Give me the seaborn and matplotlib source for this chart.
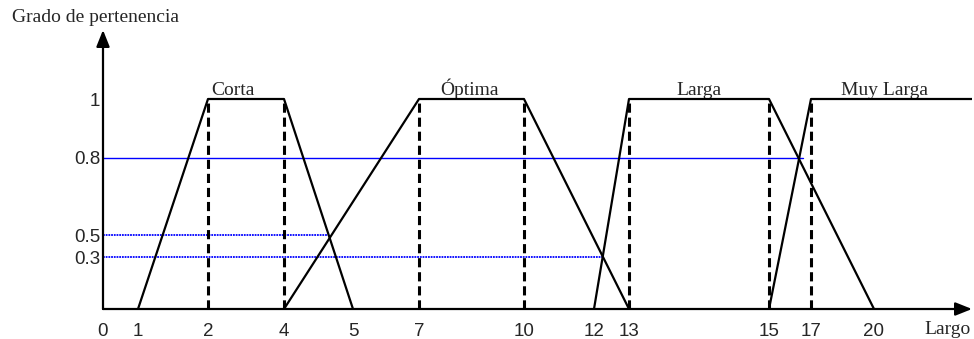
import numpy as np
import pandas as pd
import seaborn as sns
import matplotlib.pyplot as plt

# membership functions (largo -> grado de pertenencia)
corta_x = [1, 2, 4, 5]
corta_y = [0, 1, 1, 0]
optima_x = [4, 7, 10, 13]
optima_y = [0, 1, 1, 0]
larga_x = [12, 13, 15, 20]
larga_y = [0, 1, 1, 0]
muy_larga_x = [15, 17, 25]
muy_larga_y = [0, 1, 1]

sets = ['Corta', 'Óptima', 'Larga', 'Muy Larga']
cores = [2, 4, 7, 10, 13, 15, 17]          # dashed verticals

# cut levels and where each one stops
cut_levels = [0.8, 0.5, 0.3]
cut_ends = [16.6, 4.65, 12.26]

x_ticks = [0, 1, 2, 4, 5, 7, 10, 12, 13, 15, 17, 20]
y_ticks = [0.3, 0.5, 0.8, 1]

# the drawing is not to scale: piecewise mapping of values to pixels
x_pix = [103, 138, 208, 284, 353, 419, 524, 594, 629, 769, 811, 874]
y_vals = [0, 0.3, 0.5, 0.8, 1]
y_pix = [30, 82, 104, 181, 240]


def piecewise(src, dst):
    src = np.asarray(src, float)
    dst = np.asarray(dst, float)

    def f(v):
        v = np.asarray(v, float)
        out = np.interp(v, src, dst)
        lo = v < src[0]
        hi = v > src[-1]
        out = np.where(lo, dst[0] + (v - src[0]) * (dst[1] - dst[0]) / (src[1] - src[0]), out)
        out = np.where(hi, dst[-1] + (v - src[-1]) * (dst[-1] - dst[-2]) / (src[-1] - src[-2]), out)
        return out
    return f


fx, ix = piecewise(x_ticks, x_pix), piecewise(x_pix, x_ticks)
fy, iy = piecewise(y_vals, y_pix), piecewise(y_pix, y_vals)

sns.set_style('white')
plt.rcParams['font.family'] = ['Liberation Sans', 'DejaVu Sans']

W, H = 974, 339
fig = plt.figure(figsize=(W / 100, H / 100), dpi=100)
ax = fig.add_axes([103 / W, 30 / H, (972 - 103) / W, (309 - 30) / H])
ax.set_xscale('function', functions=(fx, ix))
ax.set_yscale('function', functions=(fy, iy))
ax.set_xlim(0, float(ix(972)))
ax.set_ylim(0, float(iy(309)))

# horizontal cuts
for lvl, end in zip(cut_levels, cut_ends):
    ls = '-' if lvl == 0.8 else (0, (1.0, 0.5))
    ax.plot([0, end], [lvl, lvl], color='#0000ff', lw=1.0 if lvl == 0.8 else 1.3,
            ls=ls, zorder=2)

# dashed cores
for c in cores:
    ax.plot([c, c], [0, 1], color='black', lw=2.2, ls=(0, (3, 1.6)), zorder=3)

df = pd.concat([
    pd.DataFrame({'x': corta_x, 'y': corta_y, 'set': sets[0]}),
    pd.DataFrame({'x': optima_x, 'y': optima_y, 'set': sets[1]}),
    pd.DataFrame({'x': larga_x, 'y': larga_y, 'set': sets[2]}),
    pd.DataFrame({'x': muy_larga_x, 'y': muy_larga_y, 'set': sets[3]}),
])
sns.lineplot(data=df, x='x', y='y', units='set', estimator=None, sort=False,
             color='black', lw=1.6, ax=ax, legend=False, zorder=4)

# set names above the plateaus
label_x = [2.65, 8.45, 14, 20.5]
for name, lx in zip(sets, label_x):
    ax.annotate(name, (lx, 1), xytext=(0, 3), textcoords='offset points',
                ha='center', va='baseline', fontsize=14, family='Liberation Serif')

ax.set_xticks(x_ticks)
ax.set_xticklabels([str(t) for t in x_ticks], family='Liberation Sans', fontsize=13.5)
ax.set_yticks(y_ticks)
ax.set_yticklabels(['0.3', '0.5', '0.8', '1'], family='Liberation Sans', fontsize=13.5)
ax.tick_params(axis='x', length=0, pad=10)
ax.tick_params(axis='y', length=0, pad=2)
ax.minorticks_off()
ax.set_xlabel('')
ax.set_ylabel('')
for s in ax.spines.values():
    s.set_visible(False)

# axes with arrow heads
arrow = dict(arrowstyle='-|>,head_length=1.0,head_width=0.4', color='black', lw=1.6,
             shrinkA=0, shrinkB=0)
ax.annotate('', xy=(1, 0), xytext=(0, 0), xycoords='axes fraction', arrowprops=arrow,
            annotation_clip=False)
ax.annotate('', xy=(0, 1), xytext=(0, 0), xycoords='axes fraction', arrowprops=arrow,
            annotation_clip=False)

fig.text(12 / W, 1 - 18 / H, 'Grado de pertenencia', ha='left', va='center',
         fontsize=14, family='Liberation Serif')
fig.text(948 / W, 1 - 330 / H, 'Largo', ha='center', va='center',
         fontsize=14, family='Liberation Serif')

fig.savefig('out.png', dpi=100)
